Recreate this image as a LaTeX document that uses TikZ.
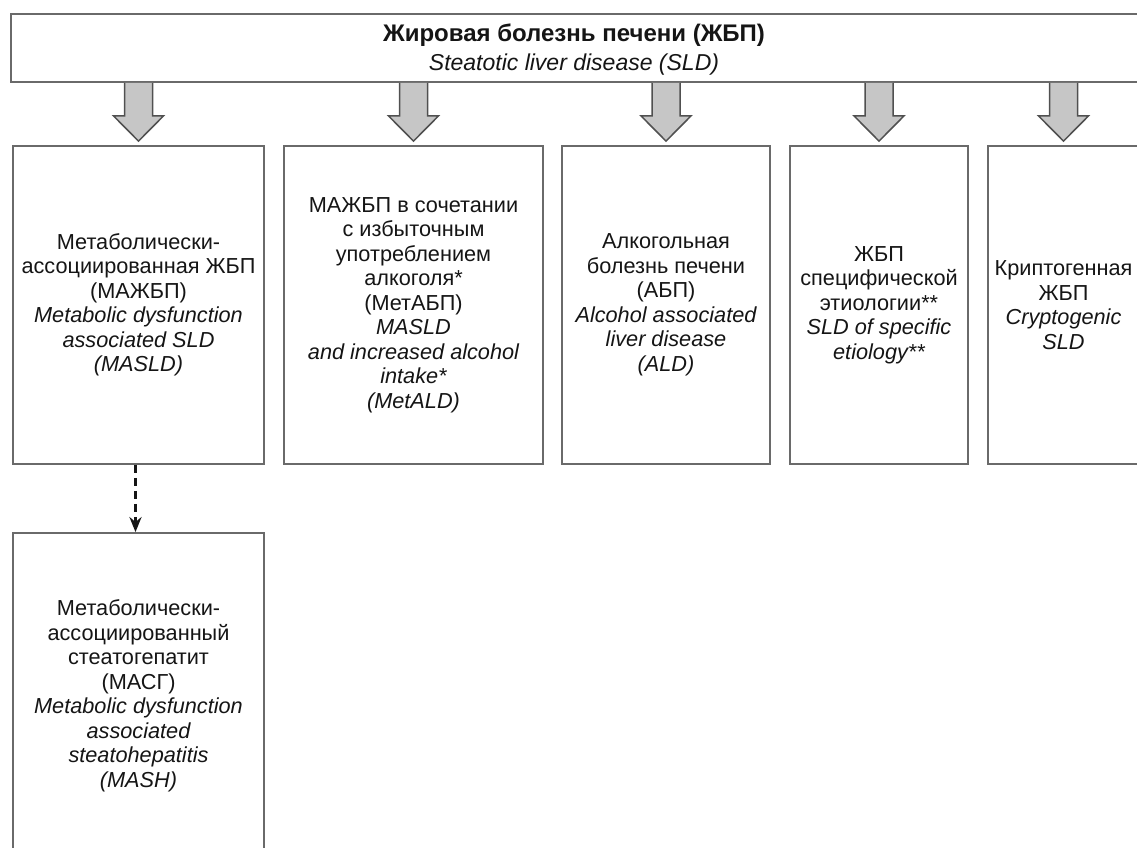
\documentclass[tikz,border=0pt]{standalone}
\usepackage{fontspec}
\setmainfont{Liberation Sans}
\usetikzlibrary{arrows.meta,calc}
\definecolor{boxgray}{HTML}{6A6A6A}
\definecolor{arrowfill}{HTML}{C6C6C6}
\definecolor{arrowline}{HTML}{505050}
\definecolor{txt}{HTML}{151515}
\begin{document}
\begin{tikzpicture}[x=1pt,y=-1pt,
  box/.style={draw=boxgray, line width=1.8pt, rectangle, inner sep=0pt, align=center,
    font=\fontsize{21.7}{24.5}\selectfont, text=txt},
  blockarrow/.style={fill=arrowfill, draw=arrowline, line width=1.5pt, line join=miter},
  dasharrow/.style={draw=txt, line width=2.6pt, dash pattern=on 8pt off 5pt,
    -{Stealth[length=15pt,width=12pt]}}]
\useasboundingbox (0,0) rectangle (1137,848);
\clip (0,0) rectangle (1137,848);
\fill[white] (0,0) rectangle (1137,848);

\node[box, minimum width=1128pt, minimum height=68pt] (top) at (575,48) {};
\node[align=center, inner sep=0pt, text=txt] (toptext) at (574,49.5)
  {{\fontsize{24}{26}\selectfont\bfseries Жировая болезнь печени (ЖБП)}\\[7pt]{\fontsize{23}{26}\selectfont\itshape Steatotic liver disease (SLD)}};

\node[box, minimum width=251pt, minimum height=318pt] (b1) at (138.5,305)
  {Метаболически-\\ассоциированная ЖБП\\(МАЖБП)\\\itshape Metabolic dysfunction\\\itshape associated SLD\\\itshape (MASLD)};
\node[box, minimum width=259pt, minimum height=318pt] (b2) at (413.5,305)
  {МАЖБП в сочетании\\с избыточным\\употреблением\\алкоголя*\\(МетАБП)\\\itshape MASLD\\\itshape and increased alcohol\\\itshape intake*\\\itshape (MetALD)};
\node[box, minimum width=208pt, minimum height=318pt] (b3) at (666,305)
  {Алкогольная\\болезнь печени\\(АБП)\\\itshape Alcohol associated\\\itshape liver disease\\\itshape (ALD)};
\node[box, minimum width=178pt, minimum height=318pt] (b4) at (879,305)
  {ЖБП\\специфической\\этиологии**\\\itshape SLD of specific\\\itshape etiology**};
\node[box, minimum width=151pt, minimum height=318pt] (b5) at (1063.5,305)
  {Криптогенная\\ЖБП\\\itshape Cryptogenic\\\itshape SLD};

\node[box, minimum width=251pt, minimum height=326pt] (mash) at (138.5,696)
  {Метаболически-\\ассоциированный\\стеатогепатит\\(МАСГ)\\\itshape Metabolic dysfunction\\\itshape associated\\\itshape steatohepatitis\\\itshape (MASH)};

\foreach \b in {b1,b2,b3,b4,b5}{
  \path (top.south -| \b.north) coordinate (s) ([yshift=4pt]\b.north) coordinate (t);
  \filldraw[blockarrow] ($(s)+(-14,0)$) -- ($(s)+(-14,33)$) -- ($(s)+(-25,33)$) -- (t)
    -- ($(s)+(25,33)$) -- ($(s)+(14,33)$) -- ($(s)+(14,0)$);
}

\draw[dasharrow] ([xshift=-3pt]b1.south) -- ([xshift=-3pt]mash.north);
\end{tikzpicture}
\end{document}
